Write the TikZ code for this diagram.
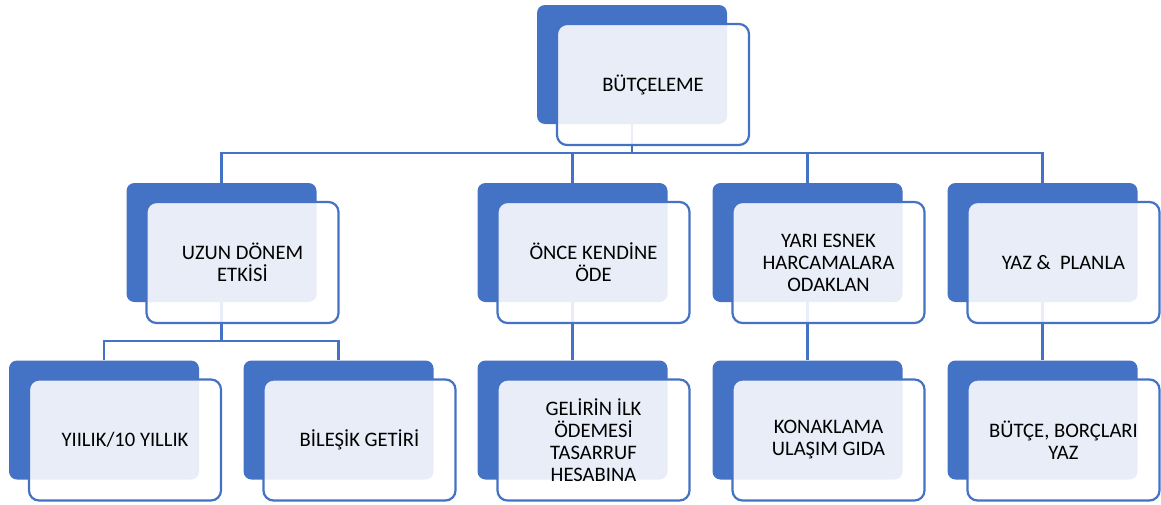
\documentclass[tikz,border=0pt]{standalone}
\usepackage{fontspec}
\setmainfont{Carlito}
\usetikzlibrary{backgrounds}
\definecolor{boxblue}{HTML}{4472C4}

\begin{document}
\begin{tikzpicture}[x=0.5pt,y=-0.5pt]
        \tikzstyle{back}=[fill=boxblue, rounded corners=4pt, minimum width=95pt, minimum height=59.5pt, inner sep=0pt]
        \tikzstyle{front}=[draw=boxblue, line width=1.1pt, fill=white, fill opacity=0.88, text opacity=1, rounded corners=5pt, minimum width=96pt, minimum height=60.5pt, inner sep=2pt, align=center, font=\fontsize{10.3}{11}\selectfont]
        \tikzstyle{conn}=[draw=boxblue, line width=1.3pt]
        \useasboundingbox (0,0) rectangle (1161,504);
        \node[back] (b0) at (632,64.5) {};
        \node[front] (f0) at ([shift={(21,20)}]b0) {BÜTÇELEME};
        \node[back] (b1) at (221.5,242.5) {};
        \node[front] (f1) at ([shift={(21,20)}]b1) {UZUN DÖNEM\\ETKİSİ};
        \node[back] (b2) at (572.5,242.5) {};
        \node[front] (f2) at ([shift={(21,20)}]b2) {ÖNCE KENDİNE\\ÖDE};
        \node[back] (b3) at (807.5,242.5) {};
        \node[front] (f3) at ([shift={(21,20)}]b3) {YARI ESNEK\\HARCAMALARA\\ODAKLAN};
        \node[back] (b4) at (1042.5,242.5) {};
        \node[front] (f4) at ([shift={(21,20)}]b4) {YAZ \&\ \ PLANLA};
        \node[back] (c1) at (104,420) {};
        \node[front] (g1) at ([shift={(21,20)}]c1) {YIILIK/10 YILLIK};
        \node[back] (c2) at (338.5,420) {};
        \node[front] (g2) at ([shift={(21,20)}]c2) {BİLEŞİK GETİRİ};
        \node[back] (c3) at (572.5,420) {};
        \node[front] (g3) at ([shift={(21,20)}]c3) {GELİRİN İLK\\ÖDEMESİ\\TASARRUF\\HESABINA};
        \node[back] (c4) at (807.5,420) {};
        \node[front] (g4) at ([shift={(21,20)}]c4) {KONAKLAMA\\ULAŞIM GIDA};
        \node[back] (c5) at (1042.5,420) {};
        \node[front] (g5) at ([shift={(21,20)}]c5) {BÜTÇE, BORÇLARI\\YAZ};
        \begin{scope}[on background layer]
          \coordinate (bus0) at (632,153);
          \coordinate (bus1) at (221.5,341);
          \draw[conn] (b0) -- (bus0);
          \draw[conn] (bus0) -| (b1.north);
          \draw[conn] (bus0) -| (b2.north);
          \draw[conn] (bus0) -| (b3.north);
          \draw[conn] (bus0) -| (b4.north);
          \draw[conn] (b1) -- (bus1);
          \draw[conn] (bus1) -| (c1.north);
          \draw[conn] (bus1) -| (c2.north);
          \draw[conn] (b2) -- (c3);
          \draw[conn] (b3) -- (c4);
          \draw[conn] (b4) -- (c5);
        \end{scope}
\end{tikzpicture}
\end{document}
